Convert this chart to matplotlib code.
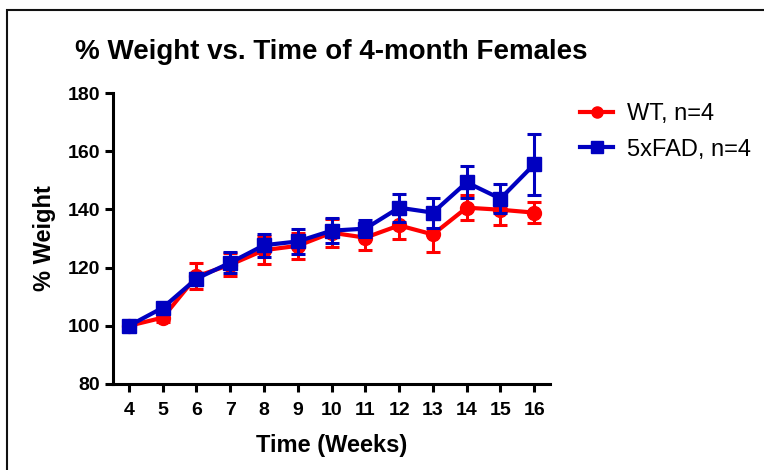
import matplotlib.pyplot as plt
from matplotlib.patches import Rectangle
from matplotlib.lines import Line2D

plt.rcParams['font.family'] = ['Liberation Sans', 'DejaVu Sans']

weeks = [4, 5, 6, 7, 8, 9, 10, 11, 12, 13, 14, 15, 16]

wt_mean = [100, 102.8, 117, 121, 126, 127.5, 132, 130.3, 134.5, 131.4, 140.6, 139.9, 138.9]
wt_err = [0.5, 1.5, 4.5, 4, 4.7, 4.5, 4.8, 4.3, 4.8, 6.2, 4.4, 5.1, 3.5]

fad_mean = [100, 106.2, 116.2, 121.7, 127.7, 129, 132.7, 133.4, 140.6, 138.9, 149.3, 143.7, 155.5]
fad_err = [0.5, 1.2, 2, 3.5, 4, 4.2, 4.2, 3, 4.8, 5.2, 5.5, 5, 10.5]

red = '#FF0000'
blue = '#0000C0'

fig = plt.figure(figsize=(7.64, 4.70), dpi=100)
ax = fig.add_axes([0.148, 0.183, 0.572, 0.619])

# outer frame like the original export
fig.patches.append(Rectangle((7 / 764, -0.1), 1.0, 1 - 10 / 470 + 0.1,
                             transform=fig.transFigure, fill=False,
                             edgecolor='#111111', linewidth=1.5))

ax.errorbar(weeks, wt_mean, yerr=wt_err, color=red, marker='o', markersize=10,
            linewidth=3, elinewidth=2.2, capsize=5, capthick=2.2, zorder=3)
ax.errorbar(weeks, fad_mean, yerr=fad_err, color=blue, marker='s', markersize=10,
            linewidth=3, elinewidth=2.2, capsize=5, capthick=2.2, zorder=4)

ax.set_xlim(3.53, 16.47)
ax.set_ylim(80, 180)
ax.set_xticks(weeks)
ax.set_yticks([80, 100, 120, 140, 160, 180])

for side in ['top', 'right']:
    ax.spines[side].set_visible(False)
for side in ['left', 'bottom']:
    ax.spines[side].set_linewidth(2.2)
ax.tick_params(width=2.2, length=6, labelsize=14, direction='out')
ax.tick_params(axis='x', pad=7)
for lab in ax.get_xticklabels() + ax.get_yticklabels():
    lab.set_fontweight('bold')

ax.set_xlabel('Time (Weeks)', fontsize=17, fontweight='bold', labelpad=11)
ax.set_ylabel('% Weight', fontsize=17, fontweight='bold', labelpad=8)
fig.text(75 / 764, 1 - 59 / 470, '% Weight vs. Time of 4-month Females',
         fontsize=20, fontweight='bold', ha='left', va='baseline')

handles = [Line2D([], [], color=red, marker='o', markersize=8, linewidth=3),
           Line2D([], [], color=blue, marker='s', markersize=8, linewidth=3)]
fig.legend(handles, ['WT, n=4', '5xFAD, n=4'], loc='upper left',
           bbox_to_anchor=(580 / 764, 1 - 103 / 470), frameon=False,
           fontsize=17, handlelength=1.4, handletextpad=0.6,
           labelspacing=0.58, borderpad=0, borderaxespad=0)

fig.savefig('out.png', dpi=100)
